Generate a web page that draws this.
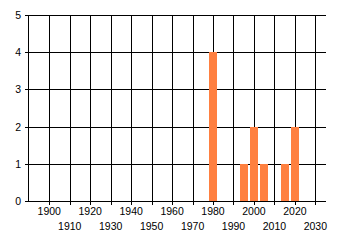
<!DOCTYPE html>
<html>
<head>
<meta charset="utf-8">
<script src="https://cdn.jsdelivr.net/npm/d3@7"></script>
<style>
  body { margin: 0; background: #fff; }
  text { font-family: "Liberation Sans", Arial, sans-serif; font-size: 10.5px; fill: #000; }
</style>
</head>
<body>
<div id="chart"></div>
<script>
const years = [1980, 1995, 2000, 2005, 2015, 2020];
const counts = [4, 1, 2, 1, 1, 2];
const decadeTicks = [1900, 1910, 1920, 1930, 1940, 1950, 1960, 1970, 1980, 1990, 2000, 2010, 2020, 2030];
const countTicks = [0, 1, 2, 3, 4, 5];

const width = 340;
const height = 245;
const margin = { top: 15, right: 14, bottom: 44, left: 28 };

const svg = d3
  .select("#chart")
  .append("svg")
  .attr("width", width)
  .attr("height", height);

const x = d3
  .scaleLinear()
  .domain([1889.6, 2035.2])
  .range([margin.left, width - margin.right]);

const y = d3
  .scaleLinear()
  .domain([0, 5])
  .range([height - margin.bottom, margin.top]);

const plotBottom = y(0);
const plotTop = y(5);
const crisp = (v) => Math.round(v) + 0.5;

// grid: horizontal lines with small tick left of the axis
svg
  .append("g")
  .selectAll("line")
  .data(countTicks)
  .join("line")
  .attr("x1", margin.left - 3)
  .attr("x2", width - margin.right)
  .attr("y1", (d) => crisp(y(d)))
  .attr("y2", (d) => crisp(y(d)))
  .attr("stroke", "#000");

// grid: vertical lines, extending a little below the axis
svg
  .append("g")
  .selectAll("line")
  .data(decadeTicks)
  .join("line")
  .attr("x1", (d) => crisp(x(d)))
  .attr("x2", (d) => crisp(x(d)))
  .attr("y1", plotTop)
  .attr("y2", plotBottom + 4)
  .attr("stroke", "#000");

// left axis line
svg
  .append("line")
  .attr("x1", crisp(margin.left))
  .attr("x2", crisp(margin.left))
  .attr("y1", plotTop)
  .attr("y2", plotBottom + 1)
  .attr("stroke", "#000");

// bars
svg
  .append("g")
  .selectAll("rect")
  .data(years)
  .join("rect")
  .attr("x", (d) => Math.round(x(d - 2)))
  .attr("width", (d) => Math.round(x(d + 2)) - Math.round(x(d - 2)))
  .attr("y", (d, i) => Math.round(y(counts[i])))
  .attr("height", (d, i) => Math.round(plotBottom) - Math.round(y(counts[i])))
  .attr("fill", "#ff8040");

// y labels
svg
  .append("g")
  .selectAll("text")
  .data(countTicks)
  .join("text")
  .attr("x", margin.left - 7)
  .attr("y", (d) => y(d) + 4)
  .attr("text-anchor", "end")
  .text((d) => d);

// x labels, alternating rows
svg
  .append("g")
  .selectAll("text")
  .data(decadeTicks)
  .join("text")
  .attr("x", (d) => x(d))
  .attr("y", (d, i) => (i % 2 === 0 ? plotBottom + 14 : plotBottom + 29))
  .attr("text-anchor", "middle")
  .text((d) => d);
</script>
</body>
</html>
